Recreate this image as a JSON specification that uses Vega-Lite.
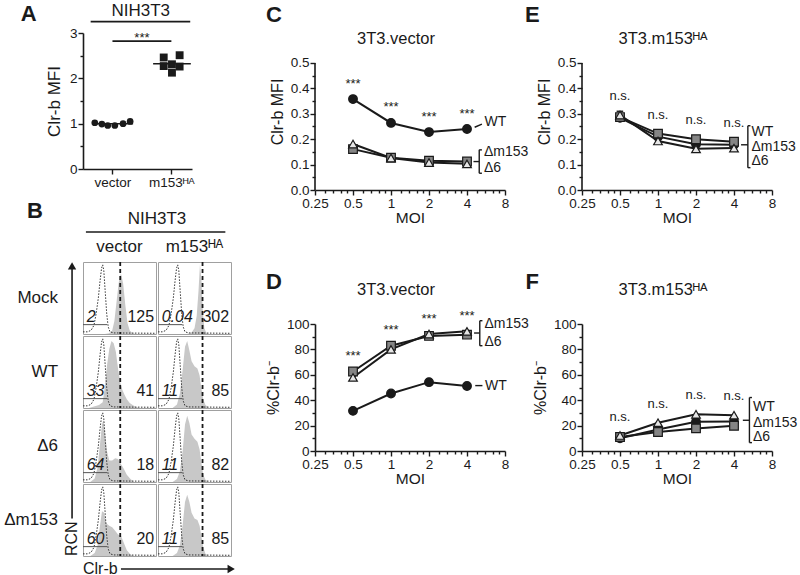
{
 "$schema": "https://vega.github.io/schema/vega-lite/v6.json",
 "background": "white",
 "padding": {"left": 0, "top": 1, "right": 0, "bottom": 0},
 "spacing": 29,
 "config": {
  "font": "Liberation Sans",
  "view": {"stroke": null},
  "axis": {"domainColor": "#1a1a1a", "domainWidth": 1.6, "tickColor": "#1a1a1a", "tickWidth": 1.4, "tickSize": 5, "labelColor": "#1a1a1a", "labelFontSize": 13.5, "labelPadding": 1, "titleColor": "#1a1a1a", "titleFontSize": 16, "titleFontWeight": "normal", "grid": false, "labelOverlap": false, "labelBound": false, "labelFlush": false},
  "text": {"color": "#1a1a1a"}
 },
 "datasets": {
  "A": [
   {"group": "vector", "pos": 0.70, "mfi": 1.02}, {"group": "vector", "pos": 0.82, "mfi": 0.99}, {"group": "vector", "pos": 0.92, "mfi": 0.96},
   {"group": "vector", "pos": 1.04, "mfi": 0.96}, {"group": "vector", "pos": 1.18, "mfi": 1.0}, {"group": "vector", "pos": 1.30, "mfi": 1.05},
   {"group": "m153ᴴᴬ", "pos": 1.87, "mfi": 2.46}, {"group": "m153ᴴᴬ", "pos": 2.14, "mfi": 2.51}, {"group": "m153ᴴᴬ", "pos": 1.87, "mfi": 2.27},
   {"group": "m153ᴴᴬ", "pos": 2.01, "mfi": 2.31}, {"group": "m153ᴴᴬ", "pos": 2.14, "mfi": 2.26}, {"group": "m153ᴴᴬ", "pos": 2.01, "mfi": 2.125}
  ],
  "C": [
   {"moi": 0.5, "strain": "WT", "val": 0.358}, {"moi": 1, "strain": "WT", "val": 0.264}, {"moi": 2, "strain": "WT", "val": 0.228}, {"moi": 4, "strain": "WT", "val": 0.240},
   {"moi": 0.5, "strain": "Δm153", "val": 0.161}, {"moi": 1, "strain": "Δm153", "val": 0.127}, {"moi": 2, "strain": "Δm153", "val": 0.115}, {"moi": 4, "strain": "Δm153", "val": 0.112},
   {"moi": 0.5, "strain": "Δ6", "val": 0.181}, {"moi": 1, "strain": "Δ6", "val": 0.126}, {"moi": 2, "strain": "Δ6", "val": 0.108}, {"moi": 4, "strain": "Δ6", "val": 0.103}
  ],
  "D": [
   {"moi": 0.5, "strain": "WT", "val": 31.6}, {"moi": 1, "strain": "WT", "val": 45.3}, {"moi": 2, "strain": "WT", "val": 54.2}, {"moi": 4, "strain": "WT", "val": 51.2},
   {"moi": 0.5, "strain": "Δm153", "val": 62.6}, {"moi": 1, "strain": "Δm153", "val": 82.9}, {"moi": 2, "strain": "Δm153", "val": 90.6}, {"moi": 4, "strain": "Δm153", "val": 91.6},
   {"moi": 0.5, "strain": "Δ6", "val": 57.9}, {"moi": 1, "strain": "Δ6", "val": 80.0}, {"moi": 2, "strain": "Δ6", "val": 92.1}, {"moi": 4, "strain": "Δ6", "val": 94.2}
  ],
  "E": [
   {"moi": 0.5, "strain": "WT", "val": 0.284}, {"moi": 1, "strain": "WT", "val": 0.210}, {"moi": 2, "strain": "WT", "val": 0.180}, {"moi": 4, "strain": "WT", "val": 0.178},
   {"moi": 0.5, "strain": "Δm153", "val": 0.287}, {"moi": 1, "strain": "Δm153", "val": 0.222}, {"moi": 2, "strain": "Δm153", "val": 0.200}, {"moi": 4, "strain": "Δm153", "val": 0.190},
   {"moi": 0.5, "strain": "Δ6", "val": 0.295}, {"moi": 1, "strain": "Δ6", "val": 0.193}, {"moi": 2, "strain": "Δ6", "val": 0.162}, {"moi": 4, "strain": "Δ6", "val": 0.165}
  ],
  "F": [
   {"moi": 0.5, "strain": "WT", "val": 10.0}, {"moi": 1, "strain": "WT", "val": 17.0}, {"moi": 2, "strain": "WT", "val": 23.0}, {"moi": 4, "strain": "WT", "val": 23.2},
   {"moi": 0.5, "strain": "Δm153", "val": 11.0}, {"moi": 1, "strain": "Δm153", "val": 15.0}, {"moi": 2, "strain": "Δm153", "val": 17.8}, {"moi": 4, "strain": "Δm153", "val": 19.8},
   {"moi": 0.5, "strain": "Δ6", "val": 12.2}, {"moi": 1, "strain": "Δ6", "val": 22.3}, {"moi": 2, "strain": "Δ6", "val": 28.9}, {"moi": 4, "strain": "Δ6", "val": 28.2}
  ],
  "B": [
   {"k": "n", "c": "vector", "r": "Mock", "t": 0.51, "p": "2", "m": "125"},
   {"k": "n", "c": "vector", "r": "WT", "t": 0.51, "p": "33", "m": "41"},
   {"k": "n", "c": "vector", "r": "Δ6", "t": 0.51, "p": "64", "m": "18"},
   {"k": "n", "c": "vector", "r": "Δm153", "t": 0.51, "p": "60", "m": "20"},
   {"k": "n", "c": "m153ᴴᴬ", "r": "Mock", "t": 0.61, "p": "0.04", "m": "302"},
   {"k": "n", "c": "m153ᴴᴬ", "r": "WT", "t": 0.61, "p": "11", "m": "85"},
   {"k": "n", "c": "m153ᴴᴬ", "r": "Δ6", "t": 0.61, "p": "11", "m": "82"},
   {"k": "n", "c": "m153ᴴᴬ", "r": "Δm153", "t": 0.61, "p": "11", "m": "85"},
   {"k": "a", "c": "vector", "r": "Δm153"},

   {"k": "h", "c": "vector", "r": "Mock", "x": 0.30, "y": 0}, {"k": "h", "c": "vector", "r": "Mock", "x": 0.36, "y": 0.01}, {"k": "h", "c": "vector", "r": "Mock", "x": 0.40, "y": 0.05},
   {"k": "h", "c": "vector", "r": "Mock", "x": 0.43, "y": 0.18}, {"k": "h", "c": "vector", "r": "Mock", "x": 0.46, "y": 0.45}, {"k": "h", "c": "vector", "r": "Mock", "x": 0.49, "y": 0.72},
   {"k": "h", "c": "vector", "r": "Mock", "x": 0.52, "y": 0.84}, {"k": "h", "c": "vector", "r": "Mock", "x": 0.55, "y": 0.70}, {"k": "h", "c": "vector", "r": "Mock", "x": 0.58, "y": 0.40},
   {"k": "h", "c": "vector", "r": "Mock", "x": 0.61, "y": 0.15}, {"k": "h", "c": "vector", "r": "Mock", "x": 0.64, "y": 0.05}, {"k": "h", "c": "vector", "r": "Mock", "x": 0.68, "y": 0.01},
   {"k": "h", "c": "vector", "r": "Mock", "x": 0.72, "y": 0},

   {"k": "h", "c": "m153ᴴᴬ", "r": "Mock", "x": 0.40, "y": 0}, {"k": "h", "c": "m153ᴴᴬ", "r": "Mock", "x": 0.46, "y": 0.02}, {"k": "h", "c": "m153ᴴᴬ", "r": "Mock", "x": 0.50, "y": 0.08},
   {"k": "h", "c": "m153ᴴᴬ", "r": "Mock", "x": 0.53, "y": 0.25}, {"k": "h", "c": "m153ᴴᴬ", "r": "Mock", "x": 0.555, "y": 0.60}, {"k": "h", "c": "m153ᴴᴬ", "r": "Mock", "x": 0.575, "y": 0.97},
   {"k": "h", "c": "m153ᴴᴬ", "r": "Mock", "x": 0.595, "y": 0.75}, {"k": "h", "c": "m153ᴴᴬ", "r": "Mock", "x": 0.615, "y": 0.30}, {"k": "h", "c": "m153ᴴᴬ", "r": "Mock", "x": 0.635, "y": 0.08},
   {"k": "h", "c": "m153ᴴᴬ", "r": "Mock", "x": 0.66, "y": 0.02}, {"k": "h", "c": "m153ᴴᴬ", "r": "Mock", "x": 0.70, "y": 0},

   {"k": "h", "c": "vector", "r": "WT", "x": 0.08, "y": 0}, {"k": "h", "c": "vector", "r": "WT", "x": 0.15, "y": 0.02}, {"k": "h", "c": "vector", "r": "WT", "x": 0.22, "y": 0.04},
   {"k": "h", "c": "vector", "r": "WT", "x": 0.27, "y": 0.08}, {"k": "h", "c": "vector", "r": "WT", "x": 0.30, "y": 0.30}, {"k": "h", "c": "vector", "r": "WT", "x": 0.33, "y": 0.60},
   {"k": "h", "c": "vector", "r": "WT", "x": 0.36, "y": 0.82}, {"k": "h", "c": "vector", "r": "WT", "x": 0.39, "y": 0.93}, {"k": "h", "c": "vector", "r": "WT", "x": 0.42, "y": 0.90},
   {"k": "h", "c": "vector", "r": "WT", "x": 0.45, "y": 0.78}, {"k": "h", "c": "vector", "r": "WT", "x": 0.48, "y": 0.55}, {"k": "h", "c": "vector", "r": "WT", "x": 0.51, "y": 0.35},
   {"k": "h", "c": "vector", "r": "WT", "x": 0.54, "y": 0.25}, {"k": "h", "c": "vector", "r": "WT", "x": 0.57, "y": 0.18}, {"k": "h", "c": "vector", "r": "WT", "x": 0.60, "y": 0.12},
   {"k": "h", "c": "vector", "r": "WT", "x": 0.64, "y": 0.07}, {"k": "h", "c": "vector", "r": "WT", "x": 0.68, "y": 0.04}, {"k": "h", "c": "vector", "r": "WT", "x": 0.73, "y": 0.01},
   {"k": "h", "c": "vector", "r": "WT", "x": 0.78, "y": 0},

   {"k": "h", "c": "m153ᴴᴬ", "r": "WT", "x": 0.20, "y": 0}, {"k": "h", "c": "m153ᴴᴬ", "r": "WT", "x": 0.26, "y": 0.05}, {"k": "h", "c": "m153ᴴᴬ", "r": "WT", "x": 0.30, "y": 0.20},
   {"k": "h", "c": "m153ᴴᴬ", "r": "WT", "x": 0.34, "y": 0.55}, {"k": "h", "c": "m153ᴴᴬ", "r": "WT", "x": 0.37, "y": 0.85}, {"k": "h", "c": "m153ᴴᴬ", "r": "WT", "x": 0.40, "y": 0.93},
   {"k": "h", "c": "m153ᴴᴬ", "r": "WT", "x": 0.43, "y": 0.80}, {"k": "h", "c": "m153ᴴᴬ", "r": "WT", "x": 0.46, "y": 0.65}, {"k": "h", "c": "m153ᴴᴬ", "r": "WT", "x": 0.50, "y": 0.58},
   {"k": "h", "c": "m153ᴴᴬ", "r": "WT", "x": 0.54, "y": 0.55}, {"k": "h", "c": "m153ᴴᴬ", "r": "WT", "x": 0.57, "y": 0.45}, {"k": "h", "c": "m153ᴴᴬ", "r": "WT", "x": 0.59, "y": 0.30},
   {"k": "h", "c": "m153ᴴᴬ", "r": "WT", "x": 0.62, "y": 0.12}, {"k": "h", "c": "m153ᴴᴬ", "r": "WT", "x": 0.65, "y": 0.04}, {"k": "h", "c": "m153ᴴᴬ", "r": "WT", "x": 0.70, "y": 0},

   {"k": "h", "c": "vector", "r": "Δ6", "x": 0.10, "y": 0}, {"k": "h", "c": "vector", "r": "Δ6", "x": 0.16, "y": 0.05}, {"k": "h", "c": "vector", "r": "Δ6", "x": 0.20, "y": 0.20},
   {"k": "h", "c": "vector", "r": "Δ6", "x": 0.23, "y": 0.50}, {"k": "h", "c": "vector", "r": "Δ6", "x": 0.26, "y": 0.80}, {"k": "h", "c": "vector", "r": "Δ6", "x": 0.28, "y": 0.86},
   {"k": "h", "c": "vector", "r": "Δ6", "x": 0.30, "y": 0.70}, {"k": "h", "c": "vector", "r": "Δ6", "x": 0.33, "y": 0.42}, {"k": "h", "c": "vector", "r": "Δ6", "x": 0.36, "y": 0.30},
   {"k": "h", "c": "vector", "r": "Δ6", "x": 0.40, "y": 0.30}, {"k": "h", "c": "vector", "r": "Δ6", "x": 0.44, "y": 0.33}, {"k": "h", "c": "vector", "r": "Δ6", "x": 0.48, "y": 0.32},
   {"k": "h", "c": "vector", "r": "Δ6", "x": 0.52, "y": 0.25}, {"k": "h", "c": "vector", "r": "Δ6", "x": 0.56, "y": 0.18}, {"k": "h", "c": "vector", "r": "Δ6", "x": 0.60, "y": 0.10},
   {"k": "h", "c": "vector", "r": "Δ6", "x": 0.65, "y": 0.04}, {"k": "h", "c": "vector", "r": "Δ6", "x": 0.70, "y": 0},

   {"k": "h", "c": "m153ᴴᴬ", "r": "Δ6", "x": 0.20, "y": 0}, {"k": "h", "c": "m153ᴴᴬ", "r": "Δ6", "x": 0.26, "y": 0.04}, {"k": "h", "c": "m153ᴴᴬ", "r": "Δ6", "x": 0.30, "y": 0.15},
   {"k": "h", "c": "m153ᴴᴬ", "r": "Δ6", "x": 0.34, "y": 0.45}, {"k": "h", "c": "m153ᴴᴬ", "r": "Δ6", "x": 0.37, "y": 0.80}, {"k": "h", "c": "m153ᴴᴬ", "r": "Δ6", "x": 0.40, "y": 0.92},
   {"k": "h", "c": "m153ᴴᴬ", "r": "Δ6", "x": 0.43, "y": 0.82}, {"k": "h", "c": "m153ᴴᴬ", "r": "Δ6", "x": 0.46, "y": 0.66}, {"k": "h", "c": "m153ᴴᴬ", "r": "Δ6", "x": 0.50, "y": 0.60},
   {"k": "h", "c": "m153ᴴᴬ", "r": "Δ6", "x": 0.54, "y": 0.56}, {"k": "h", "c": "m153ᴴᴬ", "r": "Δ6", "x": 0.57, "y": 0.45}, {"k": "h", "c": "m153ᴴᴬ", "r": "Δ6", "x": 0.59, "y": 0.30},
   {"k": "h", "c": "m153ᴴᴬ", "r": "Δ6", "x": 0.62, "y": 0.10}, {"k": "h", "c": "m153ᴴᴬ", "r": "Δ6", "x": 0.65, "y": 0.03}, {"k": "h", "c": "m153ᴴᴬ", "r": "Δ6", "x": 0.70, "y": 0},

   {"k": "h", "c": "vector", "r": "Δm153", "x": 0.10, "y": 0}, {"k": "h", "c": "vector", "r": "Δm153", "x": 0.16, "y": 0.04}, {"k": "h", "c": "vector", "r": "Δm153", "x": 0.20, "y": 0.15},
   {"k": "h", "c": "vector", "r": "Δm153", "x": 0.23, "y": 0.40}, {"k": "h", "c": "vector", "r": "Δm153", "x": 0.26, "y": 0.62}, {"k": "h", "c": "vector", "r": "Δm153", "x": 0.29, "y": 0.60},
   {"k": "h", "c": "vector", "r": "Δm153", "x": 0.32, "y": 0.45}, {"k": "h", "c": "vector", "r": "Δm153", "x": 0.36, "y": 0.42}, {"k": "h", "c": "vector", "r": "Δm153", "x": 0.40, "y": 0.40},
   {"k": "h", "c": "vector", "r": "Δm153", "x": 0.44, "y": 0.35}, {"k": "h", "c": "vector", "r": "Δm153", "x": 0.48, "y": 0.30}, {"k": "h", "c": "vector", "r": "Δm153", "x": 0.52, "y": 0.28},
   {"k": "h", "c": "vector", "r": "Δm153", "x": 0.56, "y": 0.18}, {"k": "h", "c": "vector", "r": "Δm153", "x": 0.60, "y": 0.08}, {"k": "h", "c": "vector", "r": "Δm153", "x": 0.65, "y": 0.02},
   {"k": "h", "c": "vector", "r": "Δm153", "x": 0.70, "y": 0},

   {"k": "h", "c": "m153ᴴᴬ", "r": "Δm153", "x": 0.20, "y": 0}, {"k": "h", "c": "m153ᴴᴬ", "r": "Δm153", "x": 0.26, "y": 0.04}, {"k": "h", "c": "m153ᴴᴬ", "r": "Δm153", "x": 0.30, "y": 0.15},
   {"k": "h", "c": "m153ᴴᴬ", "r": "Δm153", "x": 0.34, "y": 0.45}, {"k": "h", "c": "m153ᴴᴬ", "r": "Δm153", "x": 0.37, "y": 0.75}, {"k": "h", "c": "m153ᴴᴬ", "r": "Δm153", "x": 0.40, "y": 0.85},
   {"k": "h", "c": "m153ᴴᴬ", "r": "Δm153", "x": 0.43, "y": 0.75}, {"k": "h", "c": "m153ᴴᴬ", "r": "Δm153", "x": 0.46, "y": 0.60}, {"k": "h", "c": "m153ᴴᴬ", "r": "Δm153", "x": 0.50, "y": 0.52},
   {"k": "h", "c": "m153ᴴᴬ", "r": "Δm153", "x": 0.54, "y": 0.50}, {"k": "h", "c": "m153ᴴᴬ", "r": "Δm153", "x": 0.57, "y": 0.42}, {"k": "h", "c": "m153ᴴᴬ", "r": "Δm153", "x": 0.59, "y": 0.30},
   {"k": "h", "c": "m153ᴴᴬ", "r": "Δm153", "x": 0.62, "y": 0.12}, {"k": "h", "c": "m153ᴴᴬ", "r": "Δm153", "x": 0.65, "y": 0.03}, {"k": "h", "c": "m153ᴴᴬ", "r": "Δm153", "x": 0.70, "y": 0},

   {"k": "i", "c": "vector", "r": "Mock", "x": 0, "y": 0.03}, {"k": "i", "c": "vector", "r": "Mock", "x": 0.06, "y": 0.03}, {"k": "i", "c": "vector", "r": "Mock", "x": 0.11, "y": 0.05}, {"k": "i", "c": "vector", "r": "Mock", "x": 0.15, "y": 0.12}, {"k": "i", "c": "vector", "r": "Mock", "x": 0.18, "y": 0.28}, {"k": "i", "c": "vector", "r": "Mock", "x": 0.21, "y": 0.5}, {"k": "i", "c": "vector", "r": "Mock", "x": 0.235, "y": 0.75}, {"k": "i", "c": "vector", "r": "Mock", "x": 0.255, "y": 0.92}, {"k": "i", "c": "vector", "r": "Mock", "x": 0.27, "y": 0.96}, {"k": "i", "c": "vector", "r": "Mock", "x": 0.285, "y": 0.88}, {"k": "i", "c": "vector", "r": "Mock", "x": 0.305, "y": 0.58}, {"k": "i", "c": "vector", "r": "Mock", "x": 0.325, "y": 0.28}, {"k": "i", "c": "vector", "r": "Mock", "x": 0.345, "y": 0.1}, {"k": "i", "c": "vector", "r": "Mock", "x": 0.37, "y": 0.03}, {"k": "i", "c": "vector", "r": "Mock", "x": 0.42, "y": 0.015}, {"k": "i", "c": "vector", "r": "Mock", "x": 1, "y": 0.01},
   {"k": "i", "c": "vector", "r": "WT", "x": 0, "y": 0.03}, {"k": "i", "c": "vector", "r": "WT", "x": 0.06, "y": 0.03}, {"k": "i", "c": "vector", "r": "WT", "x": 0.11, "y": 0.05}, {"k": "i", "c": "vector", "r": "WT", "x": 0.15, "y": 0.12}, {"k": "i", "c": "vector", "r": "WT", "x": 0.18, "y": 0.28}, {"k": "i", "c": "vector", "r": "WT", "x": 0.21, "y": 0.5}, {"k": "i", "c": "vector", "r": "WT", "x": 0.235, "y": 0.75}, {"k": "i", "c": "vector", "r": "WT", "x": 0.255, "y": 0.92}, {"k": "i", "c": "vector", "r": "WT", "x": 0.27, "y": 0.96}, {"k": "i", "c": "vector", "r": "WT", "x": 0.285, "y": 0.88}, {"k": "i", "c": "vector", "r": "WT", "x": 0.305, "y": 0.58}, {"k": "i", "c": "vector", "r": "WT", "x": 0.325, "y": 0.28}, {"k": "i", "c": "vector", "r": "WT", "x": 0.345, "y": 0.1}, {"k": "i", "c": "vector", "r": "WT", "x": 0.37, "y": 0.03}, {"k": "i", "c": "vector", "r": "WT", "x": 0.42, "y": 0.015}, {"k": "i", "c": "vector", "r": "WT", "x": 1, "y": 0.01},
   {"k": "i", "c": "vector", "r": "Δ6", "x": 0, "y": 0.03}, {"k": "i", "c": "vector", "r": "Δ6", "x": 0.06, "y": 0.03}, {"k": "i", "c": "vector", "r": "Δ6", "x": 0.11, "y": 0.05}, {"k": "i", "c": "vector", "r": "Δ6", "x": 0.15, "y": 0.12}, {"k": "i", "c": "vector", "r": "Δ6", "x": 0.18, "y": 0.28}, {"k": "i", "c": "vector", "r": "Δ6", "x": 0.21, "y": 0.5}, {"k": "i", "c": "vector", "r": "Δ6", "x": 0.235, "y": 0.75}, {"k": "i", "c": "vector", "r": "Δ6", "x": 0.255, "y": 0.92}, {"k": "i", "c": "vector", "r": "Δ6", "x": 0.27, "y": 0.96}, {"k": "i", "c": "vector", "r": "Δ6", "x": 0.285, "y": 0.88}, {"k": "i", "c": "vector", "r": "Δ6", "x": 0.305, "y": 0.58}, {"k": "i", "c": "vector", "r": "Δ6", "x": 0.325, "y": 0.28}, {"k": "i", "c": "vector", "r": "Δ6", "x": 0.345, "y": 0.1}, {"k": "i", "c": "vector", "r": "Δ6", "x": 0.37, "y": 0.03}, {"k": "i", "c": "vector", "r": "Δ6", "x": 0.42, "y": 0.015}, {"k": "i", "c": "vector", "r": "Δ6", "x": 1, "y": 0.01},
   {"k": "i", "c": "vector", "r": "Δm153", "x": 0, "y": 0.03}, {"k": "i", "c": "vector", "r": "Δm153", "x": 0.06, "y": 0.03}, {"k": "i", "c": "vector", "r": "Δm153", "x": 0.11, "y": 0.05}, {"k": "i", "c": "vector", "r": "Δm153", "x": 0.15, "y": 0.12}, {"k": "i", "c": "vector", "r": "Δm153", "x": 0.18, "y": 0.28}, {"k": "i", "c": "vector", "r": "Δm153", "x": 0.21, "y": 0.5}, {"k": "i", "c": "vector", "r": "Δm153", "x": 0.235, "y": 0.75}, {"k": "i", "c": "vector", "r": "Δm153", "x": 0.255, "y": 0.92}, {"k": "i", "c": "vector", "r": "Δm153", "x": 0.27, "y": 0.96}, {"k": "i", "c": "vector", "r": "Δm153", "x": 0.285, "y": 0.88}, {"k": "i", "c": "vector", "r": "Δm153", "x": 0.305, "y": 0.58}, {"k": "i", "c": "vector", "r": "Δm153", "x": 0.325, "y": 0.28}, {"k": "i", "c": "vector", "r": "Δm153", "x": 0.345, "y": 0.1}, {"k": "i", "c": "vector", "r": "Δm153", "x": 0.37, "y": 0.03}, {"k": "i", "c": "vector", "r": "Δm153", "x": 0.42, "y": 0.015}, {"k": "i", "c": "vector", "r": "Δm153", "x": 1, "y": 0.01},
   {"k": "i", "c": "m153ᴴᴬ", "r": "Mock", "x": 0, "y": 0.03}, {"k": "i", "c": "m153ᴴᴬ", "r": "Mock", "x": 0.06, "y": 0.03}, {"k": "i", "c": "m153ᴴᴬ", "r": "Mock", "x": 0.11, "y": 0.05}, {"k": "i", "c": "m153ᴴᴬ", "r": "Mock", "x": 0.15, "y": 0.12}, {"k": "i", "c": "m153ᴴᴬ", "r": "Mock", "x": 0.18, "y": 0.28}, {"k": "i", "c": "m153ᴴᴬ", "r": "Mock", "x": 0.21, "y": 0.5}, {"k": "i", "c": "m153ᴴᴬ", "r": "Mock", "x": 0.235, "y": 0.75}, {"k": "i", "c": "m153ᴴᴬ", "r": "Mock", "x": 0.255, "y": 0.92}, {"k": "i", "c": "m153ᴴᴬ", "r": "Mock", "x": 0.27, "y": 0.96}, {"k": "i", "c": "m153ᴴᴬ", "r": "Mock", "x": 0.285, "y": 0.88}, {"k": "i", "c": "m153ᴴᴬ", "r": "Mock", "x": 0.305, "y": 0.58}, {"k": "i", "c": "m153ᴴᴬ", "r": "Mock", "x": 0.325, "y": 0.28}, {"k": "i", "c": "m153ᴴᴬ", "r": "Mock", "x": 0.345, "y": 0.1}, {"k": "i", "c": "m153ᴴᴬ", "r": "Mock", "x": 0.37, "y": 0.03}, {"k": "i", "c": "m153ᴴᴬ", "r": "Mock", "x": 0.42, "y": 0.015}, {"k": "i", "c": "m153ᴴᴬ", "r": "Mock", "x": 1, "y": 0.01},
   {"k": "i", "c": "m153ᴴᴬ", "r": "WT", "x": 0, "y": 0.03}, {"k": "i", "c": "m153ᴴᴬ", "r": "WT", "x": 0.06, "y": 0.03}, {"k": "i", "c": "m153ᴴᴬ", "r": "WT", "x": 0.11, "y": 0.05}, {"k": "i", "c": "m153ᴴᴬ", "r": "WT", "x": 0.15, "y": 0.12}, {"k": "i", "c": "m153ᴴᴬ", "r": "WT", "x": 0.18, "y": 0.28}, {"k": "i", "c": "m153ᴴᴬ", "r": "WT", "x": 0.21, "y": 0.5}, {"k": "i", "c": "m153ᴴᴬ", "r": "WT", "x": 0.235, "y": 0.75}, {"k": "i", "c": "m153ᴴᴬ", "r": "WT", "x": 0.255, "y": 0.92}, {"k": "i", "c": "m153ᴴᴬ", "r": "WT", "x": 0.27, "y": 0.96}, {"k": "i", "c": "m153ᴴᴬ", "r": "WT", "x": 0.285, "y": 0.88}, {"k": "i", "c": "m153ᴴᴬ", "r": "WT", "x": 0.305, "y": 0.58}, {"k": "i", "c": "m153ᴴᴬ", "r": "WT", "x": 0.325, "y": 0.28}, {"k": "i", "c": "m153ᴴᴬ", "r": "WT", "x": 0.345, "y": 0.1}, {"k": "i", "c": "m153ᴴᴬ", "r": "WT", "x": 0.37, "y": 0.03}, {"k": "i", "c": "m153ᴴᴬ", "r": "WT", "x": 0.42, "y": 0.015}, {"k": "i", "c": "m153ᴴᴬ", "r": "WT", "x": 1, "y": 0.01},
   {"k": "i", "c": "m153ᴴᴬ", "r": "Δ6", "x": 0, "y": 0.03}, {"k": "i", "c": "m153ᴴᴬ", "r": "Δ6", "x": 0.06, "y": 0.03}, {"k": "i", "c": "m153ᴴᴬ", "r": "Δ6", "x": 0.11, "y": 0.05}, {"k": "i", "c": "m153ᴴᴬ", "r": "Δ6", "x": 0.15, "y": 0.12}, {"k": "i", "c": "m153ᴴᴬ", "r": "Δ6", "x": 0.18, "y": 0.28}, {"k": "i", "c": "m153ᴴᴬ", "r": "Δ6", "x": 0.21, "y": 0.5}, {"k": "i", "c": "m153ᴴᴬ", "r": "Δ6", "x": 0.235, "y": 0.75}, {"k": "i", "c": "m153ᴴᴬ", "r": "Δ6", "x": 0.255, "y": 0.92}, {"k": "i", "c": "m153ᴴᴬ", "r": "Δ6", "x": 0.27, "y": 0.96}, {"k": "i", "c": "m153ᴴᴬ", "r": "Δ6", "x": 0.285, "y": 0.88}, {"k": "i", "c": "m153ᴴᴬ", "r": "Δ6", "x": 0.305, "y": 0.58}, {"k": "i", "c": "m153ᴴᴬ", "r": "Δ6", "x": 0.325, "y": 0.28}, {"k": "i", "c": "m153ᴴᴬ", "r": "Δ6", "x": 0.345, "y": 0.1}, {"k": "i", "c": "m153ᴴᴬ", "r": "Δ6", "x": 0.37, "y": 0.03}, {"k": "i", "c": "m153ᴴᴬ", "r": "Δ6", "x": 0.42, "y": 0.015}, {"k": "i", "c": "m153ᴴᴬ", "r": "Δ6", "x": 1, "y": 0.01},
   {"k": "i", "c": "m153ᴴᴬ", "r": "Δm153", "x": 0, "y": 0.03}, {"k": "i", "c": "m153ᴴᴬ", "r": "Δm153", "x": 0.06, "y": 0.03}, {"k": "i", "c": "m153ᴴᴬ", "r": "Δm153", "x": 0.11, "y": 0.05}, {"k": "i", "c": "m153ᴴᴬ", "r": "Δm153", "x": 0.15, "y": 0.12}, {"k": "i", "c": "m153ᴴᴬ", "r": "Δm153", "x": 0.18, "y": 0.28}, {"k": "i", "c": "m153ᴴᴬ", "r": "Δm153", "x": 0.21, "y": 0.5}, {"k": "i", "c": "m153ᴴᴬ", "r": "Δm153", "x": 0.235, "y": 0.75}, {"k": "i", "c": "m153ᴴᴬ", "r": "Δm153", "x": 0.255, "y": 0.92}, {"k": "i", "c": "m153ᴴᴬ", "r": "Δm153", "x": 0.27, "y": 0.96}, {"k": "i", "c": "m153ᴴᴬ", "r": "Δm153", "x": 0.285, "y": 0.88}, {"k": "i", "c": "m153ᴴᴬ", "r": "Δm153", "x": 0.305, "y": 0.58}, {"k": "i", "c": "m153ᴴᴬ", "r": "Δm153", "x": 0.325, "y": 0.28}, {"k": "i", "c": "m153ᴴᴬ", "r": "Δm153", "x": 0.345, "y": 0.1}, {"k": "i", "c": "m153ᴴᴬ", "r": "Δm153", "x": 0.37, "y": 0.03}, {"k": "i", "c": "m153ᴴᴬ", "r": "Δm153", "x": 0.42, "y": 0.015}, {"k": "i", "c": "m153ᴴᴬ", "r": "Δm153", "x": 1, "y": 0.01}
  ]
 },
 "hconcat": [
  {
   "spacing": 10,
   "vconcat": [
    {
     "width": 109, "height": 136,
     "layer": [
      {"data": {"name": "A"}, "transform": [{"filter": "datum.group == 'vector'"}],
       "mark": {"type": "point", "shape": "circle", "filled": true, "size": 45, "color": "#1a1a1a", "opacity": 1},
       "encoding": {
        "x": {"field": "pos", "type": "quantitative", "scale": {"domain": [0.5, 2.35], "nice": false, "zero": false}, "axis": {"values": [1, 2], "tickCount": 50, "labelExpr": "datum.value == 1 ? 'vector' : 'm153ᴴᴬ'", "title": null}},
        "y": {"field": "mfi", "type": "quantitative", "scale": {"domain": [0, 3], "nice": false}, "axis": {"values": [0, 0.5, 1, 1.5, 2, 2.5, 3], "tickCount": 50, "labelExpr": "datum.value % 1 == 0 ? format(datum.value, 'd') : ''", "tickSize": {"condition": {"test": "datum.value % 1 == 0", "value": 5}, "value": 3}, "title": "Clr-b MFI", "titleFontSize": 17, "titlePadding": 6}}
       }},
      {"data": {"name": "A"}, "transform": [{"filter": "datum.group == 'm153ᴴᴬ'"}],
       "mark": {"type": "point", "shape": "square", "filled": true, "size": 62, "color": "#1a1a1a", "opacity": 1},
       "encoding": {"x": {"field": "pos", "type": "quantitative"}, "y": {"field": "mfi", "type": "quantitative"}}},
      {"data": {"name": "A"}, "transform": [{"filter": "datum.group == 'vector'"}], "mark": {"type": "rule", "color": "#1a1a1a", "strokeWidth": 1.6},
       "encoding": {"x": {"datum": 0.68}, "x2": {"datum": 1.35}, "y": {"aggregate": "mean", "field": "mfi", "type": "quantitative"}}},
      {"data": {"name": "A"}, "transform": [{"filter": "datum.group == 'm153ᴴᴬ'"}], "mark": {"type": "rule", "color": "#1a1a1a", "strokeWidth": 1.6},
       "encoding": {"x": {"datum": 1.69}, "x2": {"datum": 2.33}, "y": {"aggregate": "mean", "field": "mfi", "type": "quantitative"}}},
      {"data": {"values": [{}]}, "mark": {"type": "rule", "color": "#1a1a1a", "strokeWidth": 1.6}, "encoding": {"x": {"datum": 1.0}, "x2": {"datum": 2.0}, "y": {"datum": 2.82}}},
      {"data": {"values": [{}]}, "mark": {"type": "text", "text": "***", "fontSize": 13, "baseline": "middle"}, "encoding": {"x": {"datum": 1.5}, "y": {"datum": 2.9}}},
      {"data": {"values": [{}]}, "mark": {"type": "rule", "color": "#1a1a1a", "strokeWidth": 1.6}, "encoding": {"x": {"datum": 0.63}, "x2": {"datum": 2.32}, "y": {"datum": 3.25}}},
      {"data": {"values": [{}]}, "mark": {"type": "text", "text": "NIH3T3", "fontSize": 17, "baseline": "middle"}, "encoding": {"x": {"datum": 1.48}, "y": {"datum": 3.49}}},
      {"data": {"values": [{}]}, "mark": {"type": "text", "text": "A", "fontSize": 22, "fontWeight": "bold", "baseline": "middle"}, "encoding": {"x": {"datum": -0.42}, "y": {"datum": 3.43}}},
      {"data": {"values": [{}]}, "mark": {"type": "point", "opacity": 0, "size": 1}, "encoding": {"x": {"datum": -0.892}, "y": {"datum": 1.5}}}
     ]
    },
    {
     "data": {"name": "B"},
     "bounds": "flush",
     "facet": {
      "row": {"field": "r", "type": "nominal", "sort": ["Mock", "WT", "Δ6", "Δm153"], "header": null},
      "column": {"field": "c", "type": "nominal", "sort": ["vector", "m153ᴴᴬ"], "header": null}
     },
     "spacing": {"row": 2, "column": 2},
     "spec": {
      "width": 73, "height": 72,
      "view": {"stroke": "#a0a0a0", "strokeWidth": 1},
      "layer": [
       {"transform": [{"filter": "datum.k == 'h'"}], "mark": {"type": "area", "color": "#c8c8c8", "opacity": 1},
        "encoding": {"x": {"field": "x", "type": "quantitative", "scale": {"domain": [0, 1], "nice": false, "zero": false}, "axis": null},
                     "y": {"field": "y", "type": "quantitative", "scale": {"domain": [0, 1], "nice": false}, "axis": null, "stack": null}}},
       {"transform": [{"filter": "datum.k == 'i'"}], "mark": {"type": "line", "color": "#333333", "strokeWidth": 1, "strokeDash": [1.5, 1.5]},
        "encoding": {"x": {"field": "x", "type": "quantitative"}, "y": {"field": "y", "type": "quantitative"}}},
       {"transform": [{"filter": "datum.k == 'n'"}], "mark": {"type": "rule", "color": "#555555", "strokeWidth": 1},
        "encoding": {"x": {"datum": 0}, "x2": {"datum": 0.33}, "y": {"datum": 0.13}}},
       {"transform": [{"filter": "datum.k == 'n'"}], "mark": {"type": "rule", "color": "#1a1a1a", "strokeWidth": 1.8, "strokeDash": [4, 3]},
        "encoding": {"x": {"field": "t", "type": "quantitative"}}},
       {"transform": [{"filter": "datum.k == 'n'"}], "mark": {"type": "text", "align": "left", "baseline": "middle", "fontStyle": "italic", "fontSize": 16},
        "encoding": {"text": {"field": "p"}, "x": {"datum": 0.05}, "y": {"datum": 0.24}}},
       {"transform": [{"filter": "datum.k == 'n'"}], "mark": {"type": "text", "align": "right", "baseline": "middle", "fontSize": 16},
        "encoding": {"text": {"field": "m"}, "x": {"datum": 0.975}, "y": {"datum": 0.24}}},
       {"transform": [{"filter": "datum.k == 'a'"}], "mark": {"type": "rule", "color": "#1a1a1a", "strokeWidth": 1.6},
        "encoding": {"x": {"datum": -0.15}, "y": {"datum": 0.52}, "y2": {"datum": 4.0}}},
       {"transform": [{"filter": "datum.k == 'a'"}], "mark": {"type": "point", "shape": "triangle-up", "filled": true, "size": 70, "color": "#1a1a1a", "opacity": 1},
        "encoding": {"x": {"datum": -0.15}, "y": {"datum": 4.03}}},
       {"transform": [{"filter": "datum.k == 'a'"}], "mark": {"type": "text", "text": "RCN", "angle": 270, "fontSize": 16, "baseline": "middle"},
        "encoding": {"x": {"datum": -0.15}, "y": {"datum": 0.24}}},
       {"transform": [{"filter": "datum.k == 'a'"}], "mark": {"type": "text", "text": "Clr-b", "align": "left", "fontSize": 16, "baseline": "middle"},
        "encoding": {"x": {"datum": 0.0}, "y": {"datum": -0.18}}},
       {"transform": [{"filter": "datum.k == 'a'"}], "mark": {"type": "rule", "color": "#1a1a1a", "strokeWidth": 1.6},
        "encoding": {"x": {"datum": 0.52}, "x2": {"datum": 2.0}, "y": {"datum": -0.18}}},
       {"transform": [{"filter": "datum.k == 'a'"}], "mark": {"type": "point", "shape": "triangle-right", "filled": true, "size": 70, "color": "#1a1a1a", "opacity": 1},
        "encoding": {"x": {"datum": 2.03}, "y": {"datum": -0.18}}},
       {"transform": [{"filter": "datum.k == 'a'"}], "mark": {"type": "rule", "color": "#1a1a1a", "strokeWidth": 1.6},
        "encoding": {"x": {"datum": 0.04}, "x2": {"datum": 1.95}, "y": {"datum": 4.5}}},
       {"transform": [{"filter": "datum.k == 'a'"}], "mark": {"type": "text", "text": "NIH3T3", "fontSize": 17, "baseline": "middle"},
        "encoding": {"x": {"datum": 1.014}, "y": {"datum": 4.68}}},
       {"transform": [{"filter": "datum.k == 'a'"}], "mark": {"type": "text", "text": "vector", "fontSize": 17, "baseline": "middle"},
        "encoding": {"x": {"datum": 0.5}, "y": {"datum": 4.29}}},
       {"transform": [{"filter": "datum.k == 'a'"}], "mark": {"type": "text", "text": "m153ᴴᴬ", "fontSize": 17, "baseline": "middle"},
        "encoding": {"x": {"datum": 1.527}, "y": {"datum": 4.29}}},
       {"transform": [{"filter": "datum.k == 'a'"}], "mark": {"type": "text", "text": "Mock", "fontSize": 17, "align": "right", "baseline": "middle"},
        "encoding": {"x": {"datum": -0.342}, "y": {"datum": 3.583}}},
       {"transform": [{"filter": "datum.k == 'a'"}], "mark": {"type": "text", "text": "WT", "fontSize": 17, "align": "right", "baseline": "middle"},
        "encoding": {"x": {"datum": -0.342}, "y": {"datum": 2.556}}},
       {"transform": [{"filter": "datum.k == 'a'"}], "mark": {"type": "text", "text": "Δ6", "fontSize": 17, "align": "right", "baseline": "middle"},
        "encoding": {"x": {"datum": -0.342}, "y": {"datum": 1.528}}},
       {"transform": [{"filter": "datum.k == 'a'"}], "mark": {"type": "text", "text": "Δm153", "fontSize": 17, "align": "right", "baseline": "middle"},
        "encoding": {"x": {"datum": -0.342}, "y": {"datum": 0.5}}},
       {"transform": [{"filter": "datum.k == 'a'"}], "mark": {"type": "text", "text": "B", "fontSize": 22, "fontWeight": "bold", "baseline": "middle"},
        "encoding": {"x": {"datum": -0.66}, "y": {"datum": 4.785}}}
      ]
     }
    }
   ]
  },
  {
   "spacing": -5,
   "hconcat": [
    {
     "spacing": 45,
     "vconcat": [
      {
       "width": 190, "height": 157,
       "layer": [
        {"data": {"name": "C"}, "mark": {"type": "line", "color": "#1a1a1a", "strokeWidth": 2},
         "encoding": {
          "x": {"field": "moi", "type": "quantitative", "scale": {"type": "log", "base": 2, "domain": [0.25, 8], "nice": false},
                "axis": {"values": [0.25, 0.3, 0.35, 0.4, 0.45, 0.5, 0.6, 0.7, 0.8, 0.9, 1, 1.2, 1.4, 1.6, 1.8, 2, 2.4, 2.8, 3.2, 3.6, 4, 4.8, 5.6, 6.4, 7.2, 8], "tickCount": 50, "labelExpr": "indexof([0.25,0.5,1,2,4,8], datum.value) >= 0 ? format(datum.value, '~g') : ''", "tickSize": {"condition": {"test": "indexof([0.25,0.5,1,2,4,8], datum.value) >= 0", "value": 5}, "value": 3}, "title": "MOI", "titleFontSize": 15.5, "titlePadding": 1}},
          "y": {"field": "val", "type": "quantitative", "scale": {"domain": [0, 0.6181], "nice": false},
                "axis": {"values": [0, 0.05, 0.1, 0.15, 0.2, 0.25, 0.3, 0.35, 0.4, 0.45, 0.5], "tickCount": 50, "domain": false, "labelExpr": "abs(datum.value*10 - round(datum.value*10)) < 0.001 ? format(datum.value, '.1f') : ''", "tickSize": {"condition": {"test": "abs(datum.value*10 - round(datum.value*10)) < 0.001", "value": 5}, "value": 3}, "title": "Clr-b MFI", "titlePadding": 5}},
          "detail": {"field": "strain", "type": "nominal"}}},
        {"data": {"values": [{}]}, "mark": {"type": "rule", "color": "#1a1a1a", "strokeWidth": 1.6}, "encoding": {"x": {"datum": 0.25}, "y": {"datum": 0}, "y2": {"datum": 0.5}}},
        {"data": {"name": "C"}, "mark": {"type": "point", "filled": true, "size": 75, "stroke": "#1a1a1a", "strokeWidth": 1.2, "opacity": 1},
         "encoding": {"x": {"field": "moi", "type": "quantitative"}, "y": {"field": "val", "type": "quantitative"},
          "shape": {"field": "strain", "type": "nominal", "scale": {"domain": ["WT", "Δm153", "Δ6"], "range": ["circle", "square", "triangle-up"]}, "legend": null},
          "fill": {"field": "strain", "type": "nominal", "scale": {"domain": ["WT", "Δm153", "Δ6"], "range": ["#1a1a1a", "#858585", "#e6e6e6"]}, "legend": null}}},
        {"data": {"name": "C"}, "transform": [{"aggregate": [{"op": "max", "field": "val", "as": "top"}], "groupby": ["moi"]}],
         "mark": {"type": "text", "text": "***", "fontSize": 13, "baseline": "middle", "dy": -15.5},
         "encoding": {"x": {"field": "moi", "type": "quantitative"}, "y": {"field": "top", "type": "quantitative"}}},
        {"data": {"values": [{}]}, "mark": {"type": "text", "text": "C", "fontSize": 22, "fontWeight": "bold", "baseline": "middle"}, "encoding": {"x": {"datum": 0.118}, "y": {"datum": 0.689}}},
        {"data": {"values": [{}]}, "mark": {"type": "text", "text": "3T3.vector", "fontSize": 16.5, "baseline": "middle"}, "encoding": {"x": {"datum": 1.095}, "y": {"datum": 0.594}}},
        {"data": {"values": [{}]}, "mark": {"type": "text", "text": "WT", "fontSize": 14, "align": "left", "baseline": "middle"}, "encoding": {"x": {"datum": 5.5}, "y": {"datum": 0.266}}},
        {"data": {"values": [{}]}, "mark": {"type": "rule", "color": "#1a1a1a", "strokeWidth": 1.4}, "encoding": {"x": {"datum": 4.6}, "x2": {"datum": 5.25}, "y": {"datum": 0.247}, "y2": {"datum": 0.259}}},
        {"data": {"values": [{}]}, "mark": {"type": "text", "text": "Δm153", "fontSize": 14, "align": "left", "baseline": "middle"}, "encoding": {"x": {"datum": 5.45}, "y": {"datum": 0.15}}},
        {"data": {"values": [{}]}, "mark": {"type": "text", "text": "Δ6", "fontSize": 14, "align": "left", "baseline": "middle"}, "encoding": {"x": {"datum": 5.45}, "y": {"datum": 0.088}}},
        {"data": {"values": [{}]}, "mark": {"type": "rule", "color": "#1a1a1a", "strokeWidth": 1.4}, "encoding": {"x": {"datum": 5.0}, "y": {"datum": 0.158}, "y2": {"datum": 0.066}}},
        {"data": {"values": [{}]}, "mark": {"type": "rule", "color": "#1a1a1a", "strokeWidth": 1.4}, "encoding": {"x": {"datum": 5.0}, "x2": {"datum": 5.25}, "y": {"datum": 0.158}}},
        {"data": {"values": [{}]}, "mark": {"type": "rule", "color": "#1a1a1a", "strokeWidth": 1.4}, "encoding": {"x": {"datum": 5.0}, "x2": {"datum": 5.25}, "y": {"datum": 0.066}}},
        {"data": {"values": [{}]}, "mark": {"type": "rule", "color": "#1a1a1a", "strokeWidth": 1.4}, "encoding": {"x": {"datum": 4.5}, "x2": {"datum": 5.0}, "y": {"datum": 0.112}}}
       ]
      },
      {
       "width": 190, "height": 127,
       "layer": [
        {"data": {"name": "D"}, "mark": {"type": "line", "color": "#1a1a1a", "strokeWidth": 2},
         "encoding": {
          "x": {"field": "moi", "type": "quantitative", "scale": {"type": "log", "base": 2, "domain": [0.25, 8], "nice": false},
                "axis": {"values": [0.25, 0.3, 0.35, 0.4, 0.45, 0.5, 0.6, 0.7, 0.8, 0.9, 1, 1.2, 1.4, 1.6, 1.8, 2, 2.4, 2.8, 3.2, 3.6, 4, 4.8, 5.6, 6.4, 7.2, 8], "tickCount": 50, "labelExpr": "indexof([0.25,0.5,1,2,4,8], datum.value) >= 0 ? format(datum.value, '~g') : ''", "tickSize": {"condition": {"test": "indexof([0.25,0.5,1,2,4,8], datum.value) >= 0", "value": 5}, "value": 3}, "title": "MOI", "titleFontSize": 15.5, "titlePadding": 1}},
          "y": {"field": "val", "type": "quantitative", "scale": {"domain": [0, 100], "nice": false},
                "axis": {"values": [0, 10, 20, 30, 40, 50, 60, 70, 80, 90, 100], "tickCount": 50, "labelExpr": "datum.value % 20 == 0 ? format(datum.value, 'd') : ''", "tickSize": {"condition": {"test": "datum.value % 20 == 0", "value": 5}, "value": 3}, "title": "%Clr-b⁻", "titlePadding": 5}},
          "detail": {"field": "strain", "type": "nominal"}}},
        {"data": {"name": "D"}, "mark": {"type": "point", "filled": true, "size": 75, "stroke": "#1a1a1a", "strokeWidth": 1.2, "opacity": 1},
         "encoding": {"x": {"field": "moi", "type": "quantitative"}, "y": {"field": "val", "type": "quantitative"},
          "shape": {"field": "strain", "type": "nominal", "scale": {"domain": ["WT", "Δm153", "Δ6"], "range": ["circle", "square", "triangle-up"]}, "legend": null},
          "fill": {"field": "strain", "type": "nominal", "scale": {"domain": ["WT", "Δm153", "Δ6"], "range": ["#1a1a1a", "#858585", "#e6e6e6"]}, "legend": null}}},
        {"data": {"name": "D"}, "transform": [{"aggregate": [{"op": "max", "field": "val", "as": "top"}], "groupby": ["moi"]}],
         "mark": {"type": "text", "text": "***", "fontSize": 13, "baseline": "middle", "dy": -15.5},
         "encoding": {"x": {"field": "moi", "type": "quantitative"}, "y": {"field": "top", "type": "quantitative"}}},
        {"data": {"values": [{}]}, "mark": {"type": "text", "text": "D", "fontSize": 22, "fontWeight": "bold", "baseline": "middle"}, "encoding": {"x": {"datum": 0.118}, "y": {"datum": 133}}},
        {"data": {"values": [{}]}, "mark": {"type": "text", "text": "3T3.vector", "fontSize": 16.5, "baseline": "middle"}, "encoding": {"x": {"datum": 1.095}, "y": {"datum": 126.8}}},
        {"data": {"values": [{}]}, "mark": {"type": "text", "text": "WT", "fontSize": 14, "align": "left", "baseline": "middle"}, "encoding": {"x": {"datum": 5.55}, "y": {"datum": 51.3}}},
        {"data": {"values": [{}]}, "mark": {"type": "rule", "color": "#1a1a1a", "strokeWidth": 1.4}, "encoding": {"x": {"datum": 4.65}, "x2": {"datum": 5.3}, "y": {"datum": 51.5}}},
        {"data": {"values": [{}]}, "mark": {"type": "text", "text": "Δm153", "fontSize": 14, "align": "left", "baseline": "middle"}, "encoding": {"x": {"datum": 5.5}, "y": {"datum": 100}}},
        {"data": {"values": [{}]}, "mark": {"type": "text", "text": "Δ6", "fontSize": 14, "align": "left", "baseline": "middle"}, "encoding": {"x": {"datum": 5.5}, "y": {"datum": 86}}},
        {"data": {"values": [{}]}, "mark": {"type": "rule", "color": "#1a1a1a", "strokeWidth": 1.4}, "encoding": {"x": {"datum": 5.05}, "y": {"datum": 102.6}, "y2": {"datum": 82.9}}},
        {"data": {"values": [{}]}, "mark": {"type": "rule", "color": "#1a1a1a", "strokeWidth": 1.4}, "encoding": {"x": {"datum": 5.05}, "x2": {"datum": 5.3}, "y": {"datum": 102.6}}},
        {"data": {"values": [{}]}, "mark": {"type": "rule", "color": "#1a1a1a", "strokeWidth": 1.4}, "encoding": {"x": {"datum": 5.05}, "x2": {"datum": 5.3}, "y": {"datum": 82.9}}},
        {"data": {"values": [{}]}, "mark": {"type": "rule", "color": "#1a1a1a", "strokeWidth": 1.4}, "encoding": {"x": {"datum": 4.55}, "x2": {"datum": 5.05}, "y": {"datum": 92.9}}}
       ]
      }
     ]
    },
    {
     "spacing": 45,
     "vconcat": [
      {
       "width": 190, "height": 157,
       "layer": [
        {"data": {"name": "E"}, "mark": {"type": "line", "color": "#1a1a1a", "strokeWidth": 2},
         "encoding": {
          "x": {"field": "moi", "type": "quantitative", "scale": {"type": "log", "base": 2, "domain": [0.25, 8], "nice": false},
                "axis": {"values": [0.25, 0.3, 0.35, 0.4, 0.45, 0.5, 0.6, 0.7, 0.8, 0.9, 1, 1.2, 1.4, 1.6, 1.8, 2, 2.4, 2.8, 3.2, 3.6, 4, 4.8, 5.6, 6.4, 7.2, 8], "tickCount": 50, "labelExpr": "indexof([0.25,0.5,1,2,4,8], datum.value) >= 0 ? format(datum.value, '~g') : ''", "tickSize": {"condition": {"test": "indexof([0.25,0.5,1,2,4,8], datum.value) >= 0", "value": 5}, "value": 3}, "title": "MOI", "titleFontSize": 15.5, "titlePadding": 1}},
          "y": {"field": "val", "type": "quantitative", "scale": {"domain": [0, 0.6181], "nice": false},
                "axis": {"values": [0, 0.05, 0.1, 0.15, 0.2, 0.25, 0.3, 0.35, 0.4, 0.45, 0.5], "tickCount": 50, "domain": false, "labelExpr": "abs(datum.value*10 - round(datum.value*10)) < 0.001 ? format(datum.value, '.1f') : ''", "tickSize": {"condition": {"test": "abs(datum.value*10 - round(datum.value*10)) < 0.001", "value": 5}, "value": 3}, "title": "Clr-b MFI", "titlePadding": 5}},
          "detail": {"field": "strain", "type": "nominal"}}},
        {"data": {"values": [{}]}, "mark": {"type": "rule", "color": "#1a1a1a", "strokeWidth": 1.6}, "encoding": {"x": {"datum": 0.25}, "y": {"datum": 0}, "y2": {"datum": 0.5}}},
        {"data": {"values": [{}]}, "mark": {"type": "rule", "color": "#1a1a1a", "strokeWidth": 1.4}, "encoding": {"x": {"datum": 0.5}, "y": {"datum": 0.283}, "y2": {"datum": 0.31}}},
        {"data": {"values": [{}]}, "mark": {"type": "rule", "color": "#1a1a1a", "strokeWidth": 1.4}, "encoding": {"x": {"datum": 0.47}, "x2": {"datum": 0.53}, "y": {"datum": 0.31}}},
        {"data": {"name": "E"}, "mark": {"type": "point", "filled": true, "size": 75, "stroke": "#1a1a1a", "strokeWidth": 1.2, "opacity": 1},
         "encoding": {"x": {"field": "moi", "type": "quantitative"}, "y": {"field": "val", "type": "quantitative"},
          "shape": {"field": "strain", "type": "nominal", "scale": {"domain": ["WT", "Δm153", "Δ6"], "range": ["circle", "square", "triangle-up"]}, "legend": null},
          "fill": {"field": "strain", "type": "nominal", "scale": {"domain": ["WT", "Δm153", "Δ6"], "range": ["#1a1a1a", "#858585", "#e6e6e6"]}, "legend": null}}},
        {"data": {"name": "E"}, "transform": [{"aggregate": [{"op": "max", "field": "val", "as": "top"}], "groupby": ["moi"]}],
         "mark": {"type": "text", "text": "n.s.", "fontSize": 13, "baseline": "middle", "dy": -19},
         "encoding": {"x": {"field": "moi", "type": "quantitative"}, "y": {"field": "top", "type": "quantitative"}}},
        {"data": {"values": [{}]}, "mark": {"type": "text", "text": "E", "fontSize": 22, "fontWeight": "bold", "baseline": "middle"}, "encoding": {"x": {"datum": 0.101}, "y": {"datum": 0.689}}},
        {"data": {"values": [{}]}, "mark": {"type": "text", "text": "3T3.m153ᴴᴬ", "fontSize": 16.5, "baseline": "middle"}, "encoding": {"x": {"datum": 1.095}, "y": {"datum": 0.594}}},
        {"data": {"values": [{}]}, "mark": {"type": "text", "text": "WT", "fontSize": 14, "align": "left", "baseline": "middle"}, "encoding": {"x": {"datum": 5.5}, "y": {"datum": 0.229}}},
        {"data": {"values": [{}]}, "mark": {"type": "text", "text": "Δm153", "fontSize": 14, "align": "left", "baseline": "middle"}, "encoding": {"x": {"datum": 5.5}, "y": {"datum": 0.171}}},
        {"data": {"values": [{}]}, "mark": {"type": "text", "text": "Δ6", "fontSize": 14, "align": "left", "baseline": "middle"}, "encoding": {"x": {"datum": 5.5}, "y": {"datum": 0.114}}},
        {"data": {"values": [{}]}, "mark": {"type": "rule", "color": "#1a1a1a", "strokeWidth": 1.4}, "encoding": {"x": {"datum": 5.15}, "y": {"datum": 0.253}, "y2": {"datum": 0.088}}},
        {"data": {"values": [{}]}, "mark": {"type": "rule", "color": "#1a1a1a", "strokeWidth": 1.4}, "encoding": {"x": {"datum": 5.15}, "x2": {"datum": 5.4}, "y": {"datum": 0.253}}},
        {"data": {"values": [{}]}, "mark": {"type": "rule", "color": "#1a1a1a", "strokeWidth": 1.4}, "encoding": {"x": {"datum": 5.15}, "x2": {"datum": 5.4}, "y": {"datum": 0.088}}},
        {"data": {"values": [{}]}, "mark": {"type": "rule", "color": "#1a1a1a", "strokeWidth": 1.4}, "encoding": {"x": {"datum": 4.55}, "x2": {"datum": 5.15}, "y": {"datum": 0.178}}}
       ]
      },
      {
       "width": 190, "height": 127,
       "layer": [
        {"data": {"name": "F"}, "mark": {"type": "line", "color": "#1a1a1a", "strokeWidth": 2},
         "encoding": {
          "x": {"field": "moi", "type": "quantitative", "scale": {"type": "log", "base": 2, "domain": [0.25, 8], "nice": false},
                "axis": {"values": [0.25, 0.3, 0.35, 0.4, 0.45, 0.5, 0.6, 0.7, 0.8, 0.9, 1, 1.2, 1.4, 1.6, 1.8, 2, 2.4, 2.8, 3.2, 3.6, 4, 4.8, 5.6, 6.4, 7.2, 8], "tickCount": 50, "labelExpr": "indexof([0.25,0.5,1,2,4,8], datum.value) >= 0 ? format(datum.value, '~g') : ''", "tickSize": {"condition": {"test": "indexof([0.25,0.5,1,2,4,8], datum.value) >= 0", "value": 5}, "value": 3}, "title": "MOI", "titleFontSize": 15.5, "titlePadding": 1}},
          "y": {"field": "val", "type": "quantitative", "scale": {"domain": [0, 100], "nice": false},
                "axis": {"values": [0, 10, 20, 30, 40, 50, 60, 70, 80, 90, 100], "tickCount": 50, "labelExpr": "datum.value % 20 == 0 ? format(datum.value, 'd') : ''", "tickSize": {"condition": {"test": "datum.value % 20 == 0", "value": 5}, "value": 3}, "title": "%Clr-b⁻", "titlePadding": 5}},
          "detail": {"field": "strain", "type": "nominal"}}},
        {"data": {"name": "F"}, "mark": {"type": "point", "filled": true, "size": 75, "stroke": "#1a1a1a", "strokeWidth": 1.2, "opacity": 1},
         "encoding": {"x": {"field": "moi", "type": "quantitative"}, "y": {"field": "val", "type": "quantitative"},
          "shape": {"field": "strain", "type": "nominal", "scale": {"domain": ["WT", "Δm153", "Δ6"], "range": ["circle", "square", "triangle-up"]}, "legend": null},
          "fill": {"field": "strain", "type": "nominal", "scale": {"domain": ["WT", "Δm153", "Δ6"], "range": ["#1a1a1a", "#858585", "#e6e6e6"]}, "legend": null}}},
        {"data": {"name": "F"}, "transform": [{"aggregate": [{"op": "max", "field": "val", "as": "top"}], "groupby": ["moi"]}],
         "mark": {"type": "text", "text": "n.s.", "fontSize": 13, "baseline": "middle", "dy": -19},
         "encoding": {"x": {"field": "moi", "type": "quantitative"}, "y": {"field": "top", "type": "quantitative"}}},
        {"data": {"values": [{}]}, "mark": {"type": "text", "text": "F", "fontSize": 22, "fontWeight": "bold", "baseline": "middle"}, "encoding": {"x": {"datum": 0.101}, "y": {"datum": 133}}},
        {"data": {"values": [{}]}, "mark": {"type": "text", "text": "3T3.m153ᴴᴬ", "fontSize": 16.5, "baseline": "middle"}, "encoding": {"x": {"datum": 1.095}, "y": {"datum": 126.8}}},
        {"data": {"values": [{}]}, "mark": {"type": "text", "text": "WT", "fontSize": 14, "align": "left", "baseline": "middle"}, "encoding": {"x": {"datum": 5.65}, "y": {"datum": 34.7}}},
        {"data": {"values": [{}]}, "mark": {"type": "text", "text": "Δm153", "fontSize": 14, "align": "left", "baseline": "middle"}, "encoding": {"x": {"datum": 5.65}, "y": {"datum": 22.4}}},
        {"data": {"values": [{}]}, "mark": {"type": "text", "text": "Δ6", "fontSize": 14, "align": "left", "baseline": "middle"}, "encoding": {"x": {"datum": 5.65}, "y": {"datum": 11}}},
        {"data": {"values": [{}]}, "mark": {"type": "rule", "color": "#1a1a1a", "strokeWidth": 1.4}, "encoding": {"x": {"datum": 5.3}, "y": {"datum": 42.1}, "y2": {"datum": 6.6}}},
        {"data": {"values": [{}]}, "mark": {"type": "rule", "color": "#1a1a1a", "strokeWidth": 1.4}, "encoding": {"x": {"datum": 5.3}, "x2": {"datum": 5.55}, "y": {"datum": 42.1}}},
        {"data": {"values": [{}]}, "mark": {"type": "rule", "color": "#1a1a1a", "strokeWidth": 1.4}, "encoding": {"x": {"datum": 5.3}, "x2": {"datum": 5.55}, "y": {"datum": 6.6}}},
        {"data": {"values": [{}]}, "mark": {"type": "rule", "color": "#1a1a1a", "strokeWidth": 1.4}, "encoding": {"x": {"datum": 4.7}, "x2": {"datum": 5.3}, "y": {"datum": 24.2}}}
       ]
      }
     ]
    }
   ]
  }
 ]
}
